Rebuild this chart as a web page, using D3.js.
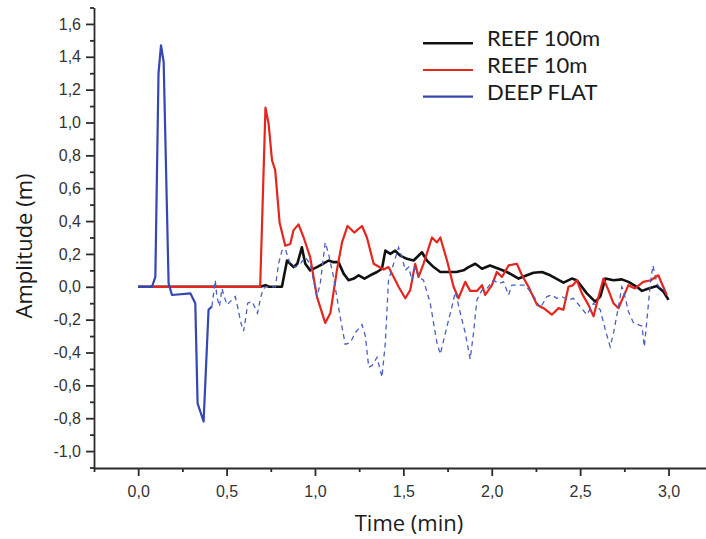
<!DOCTYPE html>
<html>
<head>
<meta charset="utf-8">
<script src="https://cdn.jsdelivr.net/npm/d3@7"></script>
<style>
  html, body { margin: 0; padding: 0; background: #fff; }
  svg { display: block; }
</style>
</head>
<body>
<svg id="chart" width="706" height="539"></svg>
<script>
// Tick values and labels
const xMajorTicks = [0, 0.5, 1.0, 1.5, 2.0, 2.5, 3.0];
const xMinorTicks = [-0.25, 0.25, 0.75, 1.25, 1.75, 2.25, 2.75];
const yMajorTicks = [-1.0, -0.8, -0.6, -0.4, -0.2, 0, 0.2, 0.4, 0.6, 0.8, 1.0, 1.2, 1.4, 1.6];
const yMinorTicks = [-1.1, -0.9, -0.7, -0.5, -0.3, -0.1, 0.1, 0.3, 0.5, 0.7, 0.9, 1.1, 1.3, 1.5, 1.7];

const seriesNames = ["REEF 100m", "REEF 10m", "DEEP FLAT"];
const seriesColors = ["#111111", "#e4261d", "#3447b2"];

// REEF 100m (black)
const reef100Time = [0, 0.69, 0.72, 0.74, 0.78, 0.813, 0.842, 0.86, 0.879, 0.90, 0.926, 0.945, 0.973, 1.011, 1.045, 1.077, 1.105, 1.133, 1.162, 1.19, 1.22, 1.247, 1.28, 1.313, 1.351, 1.379, 1.398, 1.426, 1.454, 1.482, 1.52, 1.558, 1.605, 1.633, 1.671, 1.709, 1.75, 1.80, 1.84, 1.869, 1.907, 1.945, 1.99, 2.039, 2.086, 2.152, 2.199, 2.236, 2.284, 2.331, 2.406, 2.453, 2.481, 2.538, 2.585, 2.614, 2.642, 2.689, 2.736, 2.773, 2.821, 2.85, 2.887, 2.934, 2.972, 3.0];
const reef100Amp = [0, 0, 0.01, 0, 0, 0, 0.16, 0.14, 0.12, 0.14, 0.24, 0.14, 0.10, 0.12, 0.14, 0.16, 0.15, 0.15, 0.08, 0.04, 0.05, 0.07, 0.05, 0.07, 0.09, 0.11, 0.22, 0.20, 0.22, 0.19, 0.17, 0.16, 0.21, 0.16, 0.12, 0.09, 0.09, 0.09, 0.10, 0.12, 0.14, 0.11, 0.13, 0.11, 0.09, 0.05, 0.07, 0.085, 0.09, 0.07, 0.025, 0.05, 0.04, -0.04, -0.09, -0.06, 0.05, 0.04, 0.045, 0.03, 0.0, -0.025, -0.01, 0.005, -0.03, -0.08];

// REEF 10m (red)
const reef10Time = [0, 0.69, 0.72, 0.738, 0.757, 0.775, 0.80, 0.832, 0.86, 0.879, 0.907, 0.936, 0.973, 1.011, 1.058, 1.087, 1.124, 1.153, 1.184, 1.222, 1.266, 1.294, 1.332, 1.388, 1.416, 1.445, 1.473, 1.511, 1.539, 1.567, 1.586, 1.614, 1.662, 1.69, 1.709, 1.747, 1.784, 1.812, 1.85, 1.878, 1.916, 1.945, 1.963, 2.001, 2.029, 2.058, 2.095, 2.142, 2.171, 2.208, 2.256, 2.293, 2.34, 2.378, 2.405, 2.434, 2.46, 2.481, 2.51, 2.547, 2.576, 2.604, 2.632, 2.66, 2.688, 2.717, 2.745, 2.773, 2.81, 2.857, 2.9, 2.942, 2.97, 2.99];
const reef10Amp = [0, 0, 1.09, 0.99, 0.77, 0.71, 0.39, 0.25, 0.26, 0.345, 0.38, 0.30, 0.18, -0.06, -0.22, -0.16, 0.10, 0.27, 0.37, 0.33, 0.37, 0.30, 0.14, 0.105, 0.12, 0.06, 0.0, -0.07, -0.02, 0.14, 0.06, 0.14, 0.30, 0.27, 0.30, 0.16, 0.0, -0.07, 0.03, -0.025, -0.025, 0.01, -0.05, 0.01, 0.09, 0.06, 0.13, 0.14, 0.07, 0.0, -0.11, -0.13, -0.17, -0.13, -0.14, 0.0, 0.01, 0.04, -0.04, -0.11, -0.18, -0.06, 0.05, -0.02, -0.10, -0.13, -0.06, 0.01, -0.01, 0.03, 0.04, 0.07, 0.0, -0.05];

// DEEP FLAT (blue): solid leading wave, then dashed tail
const deepSolidTime = [0, 0.078, 0.097, 0.115, 0.129, 0.144, 0.172, 0.191, 0.295, 0.323, 0.336, 0.37, 0.398, 0.417];
const deepSolidAmp = [0, 0, 0.06, 1.30, 1.47, 1.37, 0.02, -0.05, -0.04, -0.10, -0.71, -0.82, -0.14, -0.12];

const deepDashTime = [0.417, 0.436, 0.445, 0.46, 0.474, 0.487, 0.502, 0.53, 0.549, 0.562, 0.581, 0.596, 0.61, 0.619, 0.644, 0.662, 0.675, 0.69, 0.704, 0.72, 0.776, 0.794, 0.813, 0.832, 0.86, 0.889, 0.917, 0.945, 0.973, 1.011, 1.03, 1.058, 1.077, 1.105, 1.142, 1.171, 1.2, 1.228, 1.266, 1.285, 1.304, 1.322, 1.351, 1.379, 1.398, 1.416, 1.445, 1.473, 1.492, 1.511, 1.53, 1.549, 1.567, 1.586, 1.614, 1.652, 1.69, 1.709, 1.747, 1.775, 1.794, 1.822, 1.85, 1.878, 1.897, 1.916, 1.945, 1.973, 2.01, 2.039, 2.067, 2.095, 2.114, 2.161, 2.189, 2.218, 2.245, 2.274, 2.312, 2.34, 2.368, 2.396, 2.434, 2.462, 2.50, 2.538, 2.576, 2.614, 2.642, 2.67, 2.689, 2.717, 2.736, 2.745, 2.773, 2.802, 2.85, 2.863, 2.878, 2.897, 2.912, 2.934, 2.953, 2.981];
const deepDashAmp = [-0.12, 0.04, -0.06, -0.12, -0.01, -0.06, -0.11, -0.08, -0.06, -0.12, -0.22, -0.27, -0.18, -0.10, -0.09, -0.13, -0.16, -0.08, -0.02, 0.0, 0.0, 0.14, 0.22, 0.23, 0.14, 0.12, 0.14, 0.18, 0.14, -0.06, 0.02, 0.27, 0.20, 0.06, -0.18, -0.35, -0.34, -0.28, -0.23, -0.30, -0.49, -0.48, -0.43, -0.55, -0.34, 0.04, 0.14, 0.24, 0.18, 0.10, 0.12, 0.04, 0.12, 0.06, 0.04, -0.10, -0.34, -0.41, -0.24, -0.12, -0.03, -0.16, -0.28, -0.44, -0.28, -0.08, -0.02, -0.01, 0.04, 0.02, 0.03, -0.05, 0.01, 0.01, 0.01, -0.03, -0.07, -0.13, -0.06, -0.05, -0.07, -0.06, -0.08, -0.07, -0.12, -0.17, -0.10, -0.14, -0.26, -0.365, -0.28, -0.12, 0.0, -0.02, -0.15, -0.22, -0.24, -0.365, -0.20, 0.02, 0.13, 0.02, -0.01, -0.02];

const svg = d3.select("#chart");
const axisColor = "#2b2b2b";

const x = d3.scaleLinear().domain([-0.25, 3.212]).range([94, 706]);
const y = d3.scaleLinear().domain([-1.1, 1.7]).range([467.5, 7.5]);

const fmt = v => d3.format(".1f")(v).replace("\u2212", "-").replace(".", ",");

const toPoints = (ts, vs) => ts.map((t, i) => [t, vs[i]]);
const line = d3.line().x(d => x(d[0])).y(d => y(d[1]));

const plot = svg.append("g");

// Traces, drawn black first so the blue wave sits on top
plot.append("path")
  .attr("d", line(toPoints(reef100Time, reef100Amp)))
  .attr("fill", "none").attr("stroke", seriesColors[0])
  .attr("stroke-width", 2.6).attr("stroke-linejoin", "round");

plot.append("path")
  .attr("d", line(toPoints(reef10Time, reef10Amp)))
  .attr("fill", "none").attr("stroke", seriesColors[1])
  .attr("stroke-width", 2.2).attr("stroke-linejoin", "round");

plot.append("path")
  .attr("d", line(toPoints(deepDashTime, deepDashAmp)))
  .attr("fill", "none").attr("stroke", "#4a5ec6")
  .attr("stroke-width", 1.3).attr("stroke-dasharray", "5,4");

plot.append("path")
  .attr("d", line(toPoints(deepSolidTime, deepSolidAmp)))
  .attr("fill", "none").attr("stroke", seriesColors[2])
  .attr("stroke-width", 2.2).attr("stroke-linejoin", "round");

// Axes
const styleAxis = g => {
  g.selectAll(".domain").attr("stroke", axisColor).attr("stroke-width", 1.8);
  g.selectAll(".tick line").attr("stroke", axisColor).attr("stroke-width", 1.8);
  g.selectAll(".tick text")
    .attr("fill", "#333")
    .style("font-family", "'Liberation Sans', Arial, sans-serif")
    .style("font-size", "16px");
};

svg.append("g").attr("transform", "translate(0,468)")
  .call(d3.axisBottom(x).tickValues(xMinorTicks).tickSize(4).tickFormat(""))
  .call(g => g.select(".domain").remove())
  .call(styleAxis);
svg.append("g").attr("transform", "translate(0,468)")
  .call(d3.axisBottom(x).tickValues(xMajorTicks).tickSize(8).tickPadding(10).tickFormat(fmt).tickSizeOuter(0))
  .call(styleAxis);

svg.append("g").attr("transform", "translate(94,0)")
  .call(d3.axisLeft(y).tickValues(yMinorTicks).tickSize(4).tickFormat(""))
  .call(g => g.select(".domain").remove())
  .call(styleAxis);
svg.append("g").attr("transform", "translate(94,0)")
  .call(d3.axisLeft(y).tickValues(yMajorTicks).tickSize(8).tickPadding(5).tickFormat(fmt).tickSizeOuter(0))
  .call(styleAxis);

// Axis titles
svg.append("text")
  .attr("x", 409).attr("y", 531)
  .attr("text-anchor", "middle")
  .style("font-family", "'Open Sans', sans-serif")
  .style("font-size", "22px")
  .attr("fill", "#1a1a1a")
  .text("Time (min)");

svg.append("text")
  .attr("transform", "translate(31.5,246) rotate(-90)")
  .attr("text-anchor", "middle")
  .style("font-family", "'Open Sans', sans-serif")
  .style("font-size", "22px")
  .attr("fill", "#1a1a1a")
  .text("Amplitude (m)");

// Legend
const legend = svg.append("g").attr("transform", "translate(423,43.3)");
seriesNames.forEach((name, i) => {
  const row = legend.append("g").attr("transform", `translate(0,${i * 26.7})`);
  row.append("line").attr("x1", 0).attr("x2", 50).attr("y1", 0).attr("y2", 0)
    .attr("stroke", seriesColors[i]).attr("stroke-width", i === 0 ? 2.6 : 2.2);
  row.append("text").attr("x", 64).attr("y", 3)
    .style("font-family", "Lato, sans-serif")
    .style("font-size", "22px")
    .attr("fill", "#1a1a1a")
    .text(name);
});
</script>
</body>
</html>
